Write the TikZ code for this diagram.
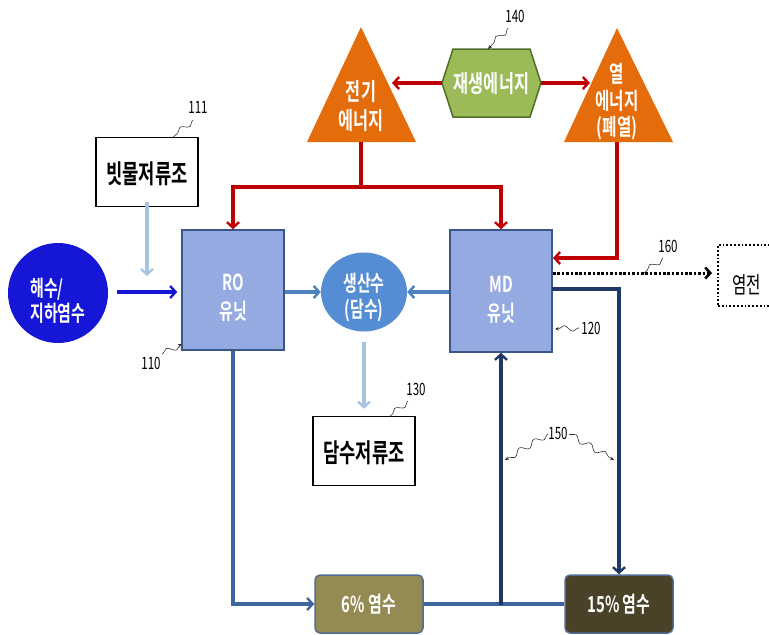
\documentclass[tikz,border=0pt]{standalone}
\usepackage{fontspec}
\setmainfont{Noto Sans CJK KR}
\newfontfamily\krb{Noto Sans CJK KR Bold}[FakeStretch=0.68]
\newfontfamily\krr{Noto Sans CJK KR}[FakeStretch=0.68]
\usetikzlibrary{arrows.meta,shapes.geometric,decorations.pathmorphing}
\definecolor{orng}{RGB}{228,108,10}
\definecolor{grnf}{RGB}{155,187,89}
\definecolor{grnd}{RGB}{80,110,40}
\definecolor{redc}{RGB}{192,0,0}
\definecolor{unitf}{RGB}{150,170,226}
\definecolor{unitd}{RGB}{56,87,135}
\definecolor{lblue}{RGB}{166,196,226}
\definecolor{mblue}{RGB}{79,129,189}
\definecolor{prodc}{RGB}{84,141,212}
\definecolor{seac}{RGB}{22,22,215}
\definecolor{navy}{RGB}{31,56,100}
\definecolor{botl}{RGB}{62,100,158}
\definecolor{sixf}{RGB}{148,138,84}
\definecolor{fiff}{RGB}{73,66,41}
\tikzset{
  wtxt/.style={text=white,font=\krb\fontsize{24}{29}\selectfont,align=center,inner sep=0pt},
  utxt/.style={text=white,font=\krb\fontsize{22}{29}\selectfont,align=center,inner sep=0pt},
  btxt/.style={text=black,font=\krb\fontsize{26}{30}\selectfont,inner sep=0pt},
  unitbox/.style={draw=unitd,line width=1.5pt,fill=unitf,minimum width=102pt,inner sep=0pt},
  tankbox/.style={draw=black,line width=1.6pt,fill=white,minimum width=102pt,minimum height=69pt,inner sep=0pt},
  saltbox/.style={draw=botl!70!gray,line width=1.5pt,rounded corners=5pt,minimum width=108pt,minimum height=58pt,inner sep=0pt,text=white,font=\krb\fontsize{22}{26}\selectfont},
  tip/.style={-{Straight Barb[length=5.5pt,width=12pt,line width=2.4pt]}},
  redarr/.style={draw=redc,line width=3.2pt,tip},
  redln/.style={draw=redc,line width=3.2pt},
  flow/.style={line width=3.2pt,tip},
  numl/.style={font=\krr\fontsize{17}{18}\selectfont,text=black,inner sep=0pt},
  squig/.style={draw=black!80,line width=0.6pt,decorate,decoration={snake,amplitude=3pt,segment length=17pt,pre length=1pt,post length=2pt}},
  squiga/.style={squig,-{Stealth[length=4pt,width=3.5pt]}},
}
\begin{document}
\begin{tikzpicture}[x=1pt,y=-1pt]
\useasboundingbox (0,0) rectangle (769,635);
\clip (0,0) rectangle (769,635);

% energy sources
\fill[orng] (361,27) -- (416,142) -- (307,142) -- cycle;
\node[wtxt] (elec) at (361,106) {전기\\에너지};
\coordinate (elecB) at (361,142);
\coordinate (elecIn) at (392,83);
\fill[orng] (617,28) -- (673,142) -- (564,142) -- cycle;
\node[wtxt,font=\krb\fontsize{23}{26.5}\selectfont] (heat) at (617,102) {열\\에너지\\(폐열)};
\coordinate (heatB) at (617,142);
\coordinate (heatIn) at (590,83);
\filldraw[fill=grnf,draw=grnd,line width=1.5pt] (442,83) -- (453,49) -- (530,49) -- (541,83) -- (530,117) -- (453,117) -- cycle;
\node[wtxt] (renew) at (491.5,84) {재생에너지};
\coordinate (renW) at (442,83);
\coordinate (renE) at (541,83);

% units
\node[unitbox,minimum height=120pt] (RO) at (233,290) {};
\node[utxt] (ROt) at (233,298) {RO\\유닛};
\node[unitbox,minimum height=122pt] (MD) at (501,291) {};
\node[utxt] (MDt) at (501,300) {MD\\유닛};

% water nodes
\node[circle,fill=seac,minimum size=100pt,inner sep=0pt] (sea) at (58,293) {};
\node[utxt,align=left,font=\krb\fontsize{22}{25}\selectfont] (seat) at (58,301) {해수/\\지하염수};
\node[ellipse,fill=prodc,minimum width=86pt,minimum height=79pt,inner sep=0pt] (prod) at (364,292) {};
\node[utxt,font=\krb\fontsize{22}{26}\selectfont] (prodt) at (364,298) {생산수\\(담수)};

\node[tankbox] (rain) at (147,172) {};
\node[btxt] (raint) at (147,174) {빗물저류조};
\node[tankbox] (fresh) at (364,451) {};
\node[btxt] (fresht) at (364,453) {담수저류조};

\node[draw=black,dotted,line width=1.8pt,minimum width=100pt,minimum height=61pt,inner sep=0pt] (salt) at (768,275.5) {};
\node[font=\krr\fontsize{23}{26}\selectfont,text=black,anchor=west,inner sep=0pt] (saltt) at (732,285) {염전};

\node[saltbox,fill=sixf] (six) at (369,604) {6\% 염수};
\node[saltbox,fill=fiff] (fif) at (619,604) {15\% 염수};

% red energy lines
\draw[redarr] (renW) -- (elecIn);
\draw[redarr] (renE) -- (heatIn);
\coordinate (junc) at (361,187);
\draw[redln] (elecB) -- (junc);
\draw[redarr] (junc) -| (RO.north);
\draw[redarr] (junc) -| (MD.north);
\coordinate (mdIn) at (553,258);
\draw[redarr] (heatB) |- (mdIn);

% water flows
\coordinate (seaOut) at (117,292);
\draw[flow,draw=seac,shorten >=4pt] (seaOut) -- (RO.west |- seaOut);
\coordinate (rainIn) at (147,276);
\draw[flow,draw=lblue] ([yshift=5pt]rain.south) -- (rainIn);
\draw[flow,draw=mblue] (RO.east |- prod.west) -- (prod.west);
\draw[flow,draw=mblue] (MD.west |- prod.east) -- (prod.east);
\draw[flow,draw=lblue,shorten <=10pt,shorten >=7pt] (prod.south) -- (fresh.north);

\coordinate (mdDot) at (553,273);
\coordinate (dotEnd) at (712,273);
\draw[line width=3pt,dash pattern=on 2.6pt off 1.8pt,-{Straight Barb[length=5pt,width=11pt,line width=2.6pt]}] (mdDot) -- (dotEnd);

\coordinate (mdBr) at (552,289);
\draw[flow,draw=navy] (mdBr) -| (fif.north);
\draw[flow,draw=botl] (RO.south) |- (six.west);
\draw[line width=3.2pt,draw=botl] (six.east) -- (fif.west);
\coordinate (j2) at (501,605);
\draw[flow,draw=navy] (j2) -- (MD.south);

% reference labels
\node[numl] (n140) at (515,16) {140};
\draw[squiga] (508,28) -- (488,49);
\node[numl] (n111) at (198,107) {111};
\draw[squig] (193,120) -- (172,138);
\node[numl] (n110) at (151,363) {110};
\draw[squiga] (162,354) -- (182,344);
\node[numl] (n120) at (591,328) {120};
\draw[squiga] (579,328) -- (555,329);
\node[numl] (n130) at (416,389) {130};
\draw[squig] (408,401) -- (389,417);
\node[numl] (n160) at (668,246) {160};
\draw[squig] (663,258) -- (644,273);
\node[numl] (n150) at (558,433) {150};
\draw[squiga] (548,434) -- (505,460);
\draw[squiga] (569,434) -- (614,460);
\end{tikzpicture}
\end{document}
